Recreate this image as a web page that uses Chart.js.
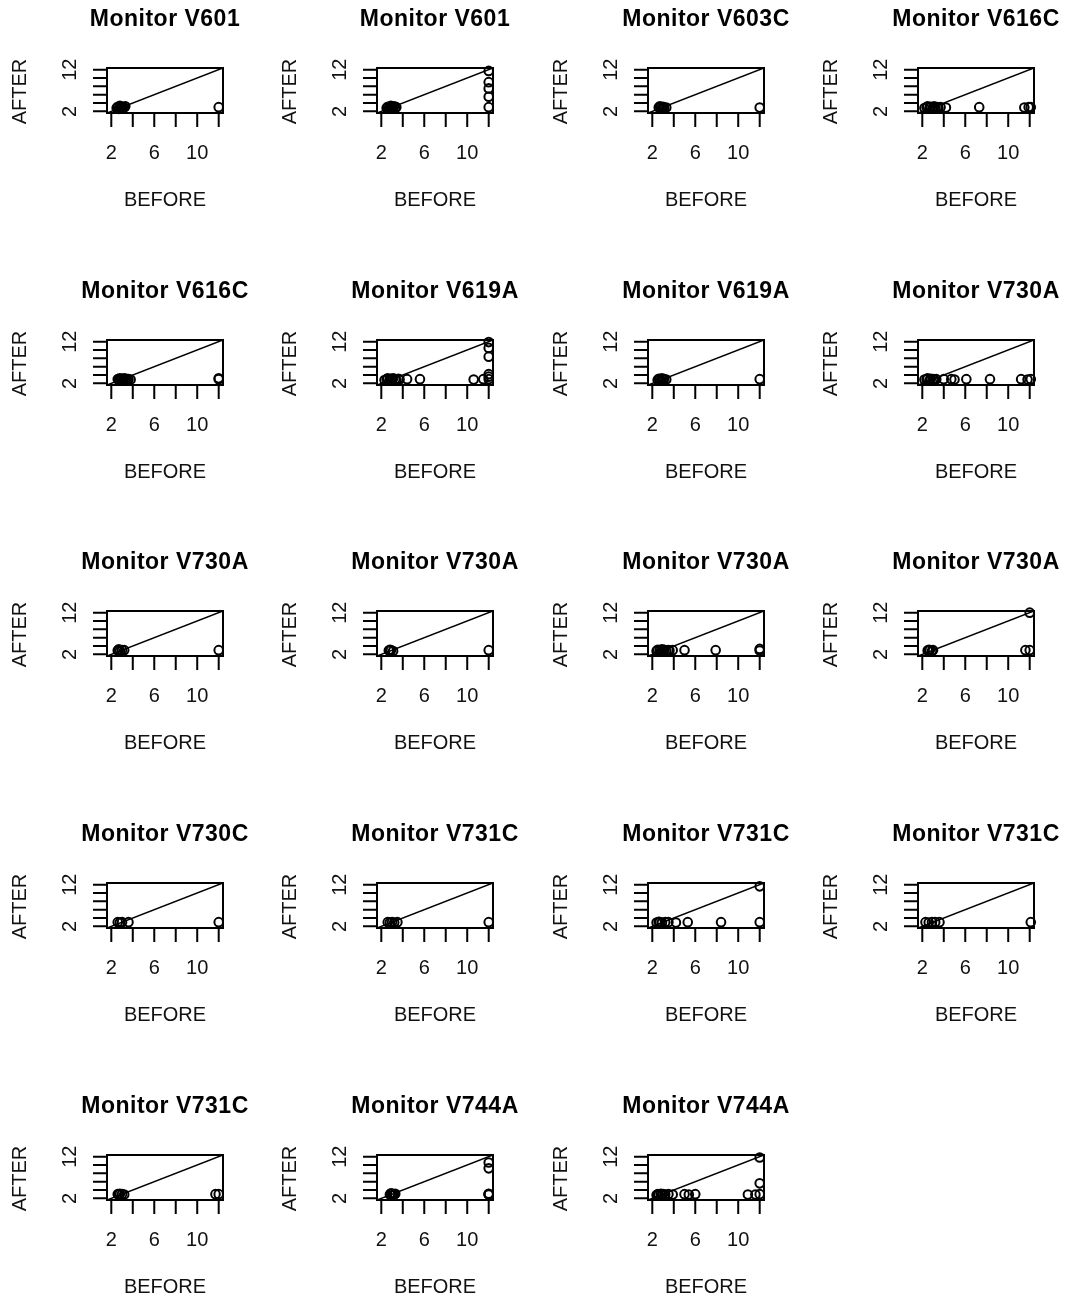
<!DOCTYPE html>
<html>
<head>
<meta charset="utf-8">
<script src="https://cdn.jsdelivr.net/npm/chart.js@4/dist/chart.umd.min.js"></script>
<style>
  html, body { margin: 0; padding: 0; background: #fff; overflow: hidden; }
  #grid { position: relative; width: 1070px; height: 1301px; overflow: hidden; }
  .panel { position: absolute; width: 270px; height: 272px; }
</style>
</head>
<body>
<div id="grid"></div>
<script>
// one scatter per monitor: BEFORE vs AFTER, with the y = x reference line
const monitorNames = [
  'Monitor V601', 'Monitor V601', 'Monitor V603C', 'Monitor V616C',
  'Monitor V616C', 'Monitor V619A', 'Monitor V619A', 'Monitor V730A',
  'Monitor V730A', 'Monitor V730A', 'Monitor V730A', 'Monitor V730A',
  'Monitor V730C', 'Monitor V731C', 'Monitor V731C', 'Monitor V731C',
  'Monitor V731C', 'Monitor V744A', 'Monitor V744A'
];

const beforeValues = [
  [2.5, 2.6, 2.7, 2.8, 2.8, 2.9, 3.0, 3.0, 3.1, 3.2, 3.3, 12.0],
  [2.5, 2.6, 2.7, 2.8, 2.9, 3.0, 3.0, 3.1, 3.2, 3.3, 3.4, 12.0, 12.0, 12.0, 12.0, 12.0],
  [2.6, 2.7, 2.8, 2.9, 3.0, 3.1, 3.3, 12.0],
  [2.2, 2.4, 2.5, 2.7, 2.8, 3.0, 3.1, 3.2, 3.4, 3.5, 3.7, 4.2, 7.3, 11.5, 11.9, 12.1],
  [2.6, 2.7, 2.8, 2.9, 3.0, 3.1, 3.2, 3.3, 3.4, 3.5, 3.6, 3.8, 12.0, 12.0],
  [2.3, 2.5, 2.6, 2.8, 2.9, 3.0, 3.1, 3.3, 3.4, 3.6, 3.7, 4.4, 5.6, 10.6, 11.5, 12.0, 12.0, 12.0, 12.0, 12.0, 12.0],
  [2.5, 2.6, 2.7, 2.8, 2.9, 3.0, 3.1, 3.3, 12.0],
  [2.2, 2.4, 2.5, 2.7, 2.8, 3.0, 3.1, 3.3, 4.0, 4.7, 5.0, 6.1, 8.3, 11.2, 11.8, 12.1],
  [2.6, 2.7, 2.8, 3.0, 3.2, 12.0],
  [2.7, 2.8, 2.9, 3.1, 12.0],
  [2.4, 2.5, 2.7, 2.8, 2.9, 3.0, 3.1, 3.3, 3.5, 3.6, 3.9, 5.0, 7.9, 12.0, 12.0],
  [2.5, 2.6, 2.7, 2.9, 3.0, 11.6, 12.0, 12.0],
  [2.6, 2.8, 3.0, 3.6, 12.0],
  [2.6, 2.8, 3.0, 3.2, 3.5, 12.0],
  [2.4, 2.6, 2.7, 2.9, 3.2, 3.5, 4.2, 5.3, 8.4, 12.0, 12.0],
  [2.3, 2.6, 2.9, 3.2, 3.6, 12.1],
  [2.6, 2.7, 2.8, 3.0, 3.2, 11.7, 12.0],
  [2.8, 2.9, 3.0, 3.0, 3.1, 3.2, 3.3, 12.0, 12.0, 12.0, 12.0, 12.0],
  [2.4, 2.5, 2.6, 2.8, 2.9, 3.0, 3.2, 3.5, 3.9, 5.0, 5.4, 6.0, 10.9, 11.6, 12.0, 12.0, 12.0]
];

const afterValues = [
  [2.8, 3.1, 2.6, 3.0, 3.3, 2.8, 3.1, 2.7, 3.0, 2.9, 3.2, 3.0],
  [2.8, 3.1, 2.7, 3.0, 3.3, 2.8, 3.1, 2.9, 3.2, 2.8, 3.0, 3.0, 5.5, 7.5, 9.0, 11.7],
  [2.9, 3.2, 3.0, 2.7, 3.1, 2.8, 2.9, 2.9],
  [2.8, 3.0, 3.2, 2.9, 3.1, 2.7, 3.2, 2.9, 3.0, 2.8, 3.0, 2.9, 3.0, 2.9, 3.0, 3.0],
  [3.0, 2.8, 3.2, 2.9, 3.1, 2.7, 3.2, 2.9, 3.1, 2.8, 3.0, 2.9, 3.0, 3.2],
  [2.8, 3.0, 3.2, 2.9, 3.1, 2.7, 3.2, 3.0, 2.8, 3.1, 2.9, 3.0, 3.0, 2.9, 3.0, 3.0, 3.6, 4.2, 8.4, 10.5, 11.9],
  [2.8, 3.1, 3.0, 2.7, 3.2, 2.9, 3.0, 2.9, 3.0],
  [2.9, 3.0, 3.2, 2.8, 3.1, 3.0, 2.9, 3.0, 3.0, 3.0, 2.9, 3.0, 3.0, 3.0, 2.9, 3.0],
  [2.9, 3.2, 2.8, 3.0, 3.0, 3.0],
  [2.9, 3.1, 3.0, 2.8, 3.0],
  [2.8, 3.1, 3.0, 2.7, 3.2, 2.9, 3.1, 2.8, 3.0, 2.9, 3.0, 3.0, 3.0, 2.9, 3.3],
  [2.9, 3.1, 3.0, 2.8, 3.0, 3.0, 3.0, 12.0],
  [3.0, 2.9, 3.0, 3.0, 3.0],
  [3.0, 2.9, 3.0, 2.9, 3.0, 3.0],
  [2.9, 3.1, 3.0, 2.9, 3.0, 3.0, 2.9, 3.0, 3.0, 3.0, 11.6],
  [3.0, 2.9, 3.0, 3.0, 3.0, 3.0],
  [3.0, 2.9, 3.1, 3.0, 2.9, 3.0, 3.0],
  [2.9, 3.2, 2.8, 3.1, 3.0, 2.9, 3.1, 2.9, 3.1, 3.0, 9.2, 10.6],
  [2.8, 3.0, 2.9, 3.1, 2.8, 3.0, 2.9, 3.0, 2.9, 3.0, 2.9, 3.0, 2.9, 2.9, 3.0, 5.6, 11.8]
];

const axisTicks = [2, 4, 6, 8, 10, 12];
const xTickLabels = [2, 6, 10];
const yTickLabels = [2, 12];
const axisMin = 1.6;
const axisMax = 12.4;

const FONT = '"Liberation Sans", Arial, Helvetica, sans-serif';

// box, tick marks and text in the style of base R graphics
const baseFrame = {
  id: 'baseFrame',
  afterDraw(chart) {
    const { ctx, chartArea: a, scales: { x, y } } = chart;
    const cx = (a.left + a.right) / 2;
    const cy = (a.top + a.bottom) / 2;
    ctx.save();
    ctx.strokeStyle = '#000';
    ctx.lineWidth = 2;
    ctx.strokeRect(a.left, a.top, a.right - a.left, a.bottom - a.top);

    ctx.beginPath();
    axisTicks.forEach(v => {
      const px = x.getPixelForValue(v);
      ctx.moveTo(px, a.bottom);
      ctx.lineTo(px, a.bottom + 14);
      const py = y.getPixelForValue(v);
      ctx.moveTo(a.left, py);
      ctx.lineTo(a.left - 14, py);
    });
    ctx.stroke();

    ctx.fillStyle = '#111';
    ctx.textAlign = 'center';
    ctx.textBaseline = 'middle';
    ctx.font = '20px ' + FONT;
    xTickLabels.forEach(v => {
      ctx.fillText(String(v), x.getPixelForValue(v), a.bottom + 40);
    });
    yTickLabels.forEach(v => {
      ctx.save();
      ctx.translate(a.left - 37, y.getPixelForValue(v));
      ctx.rotate(-Math.PI / 2);
      ctx.fillText(String(v), 0, 0);
      ctx.restore();
    });

    ctx.fillText('BEFORE', cx, a.bottom + 87);
    ctx.save();
    ctx.translate(20, cy + 1);
    ctx.rotate(-Math.PI / 2);
    ctx.fillText('AFTER', 0, 0);
    ctx.restore();

    ctx.fillStyle = '#000';
    ctx.font = 'bold 23px ' + FONT;
    ctx.letterSpacing = '0.5px';
    ctx.fillText(chart.options.plugins.baseFrame.title, cx, 20);
    ctx.restore();
  }
};

const grid = document.getElementById('grid');

monitorNames.forEach((name, i) => {
  const col = i % 4;
  const row = Math.floor(i / 4);
  const wrap = document.createElement('div');
  wrap.className = 'panel';
  wrap.style.left = Math.round(col * 270.3) + 'px';
  wrap.style.top = Math.round(row * 271.7) + 'px';
  const canvas = document.createElement('canvas');
  canvas.width = 270;
  canvas.height = 272;
  wrap.appendChild(canvas);
  grid.appendChild(wrap);

  const points = beforeValues[i].map((b, k) => ({ x: b, y: afterValues[i][k] }));

  new Chart(canvas.getContext('2d'), {
    type: 'scatter',
    data: {
      datasets: [
        {
          data: points,
          pointStyle: 'circle',
          pointRadius: 4.3,
          borderColor: '#000',
          backgroundColor: 'rgba(0,0,0,0)',
          borderWidth: 2,
          clip: false
        },
        {
          // abline(0, 1)
          data: [{ x: axisMin, y: axisMin }, { x: axisMax, y: axisMax }],
          showLine: true,
          pointRadius: 0,
          borderColor: '#000',
          borderWidth: 1.6
        }
      ]
    },
    options: {
      responsive: false,
      animation: false,
      events: [],
      layout: { padding: { left: 107, top: 68, right: 47, bottom: 159 } },
      scales: {
        x: { type: 'linear', min: axisMin, max: axisMax, display: false },
        y: { type: 'linear', min: axisMin, max: axisMax, display: false }
      },
      plugins: {
        legend: { display: false },
        tooltip: { enabled: false },
        baseFrame: { title: name }
      }
    },
    plugins: [baseFrame]
  });
});
</script>
</body>
</html>
